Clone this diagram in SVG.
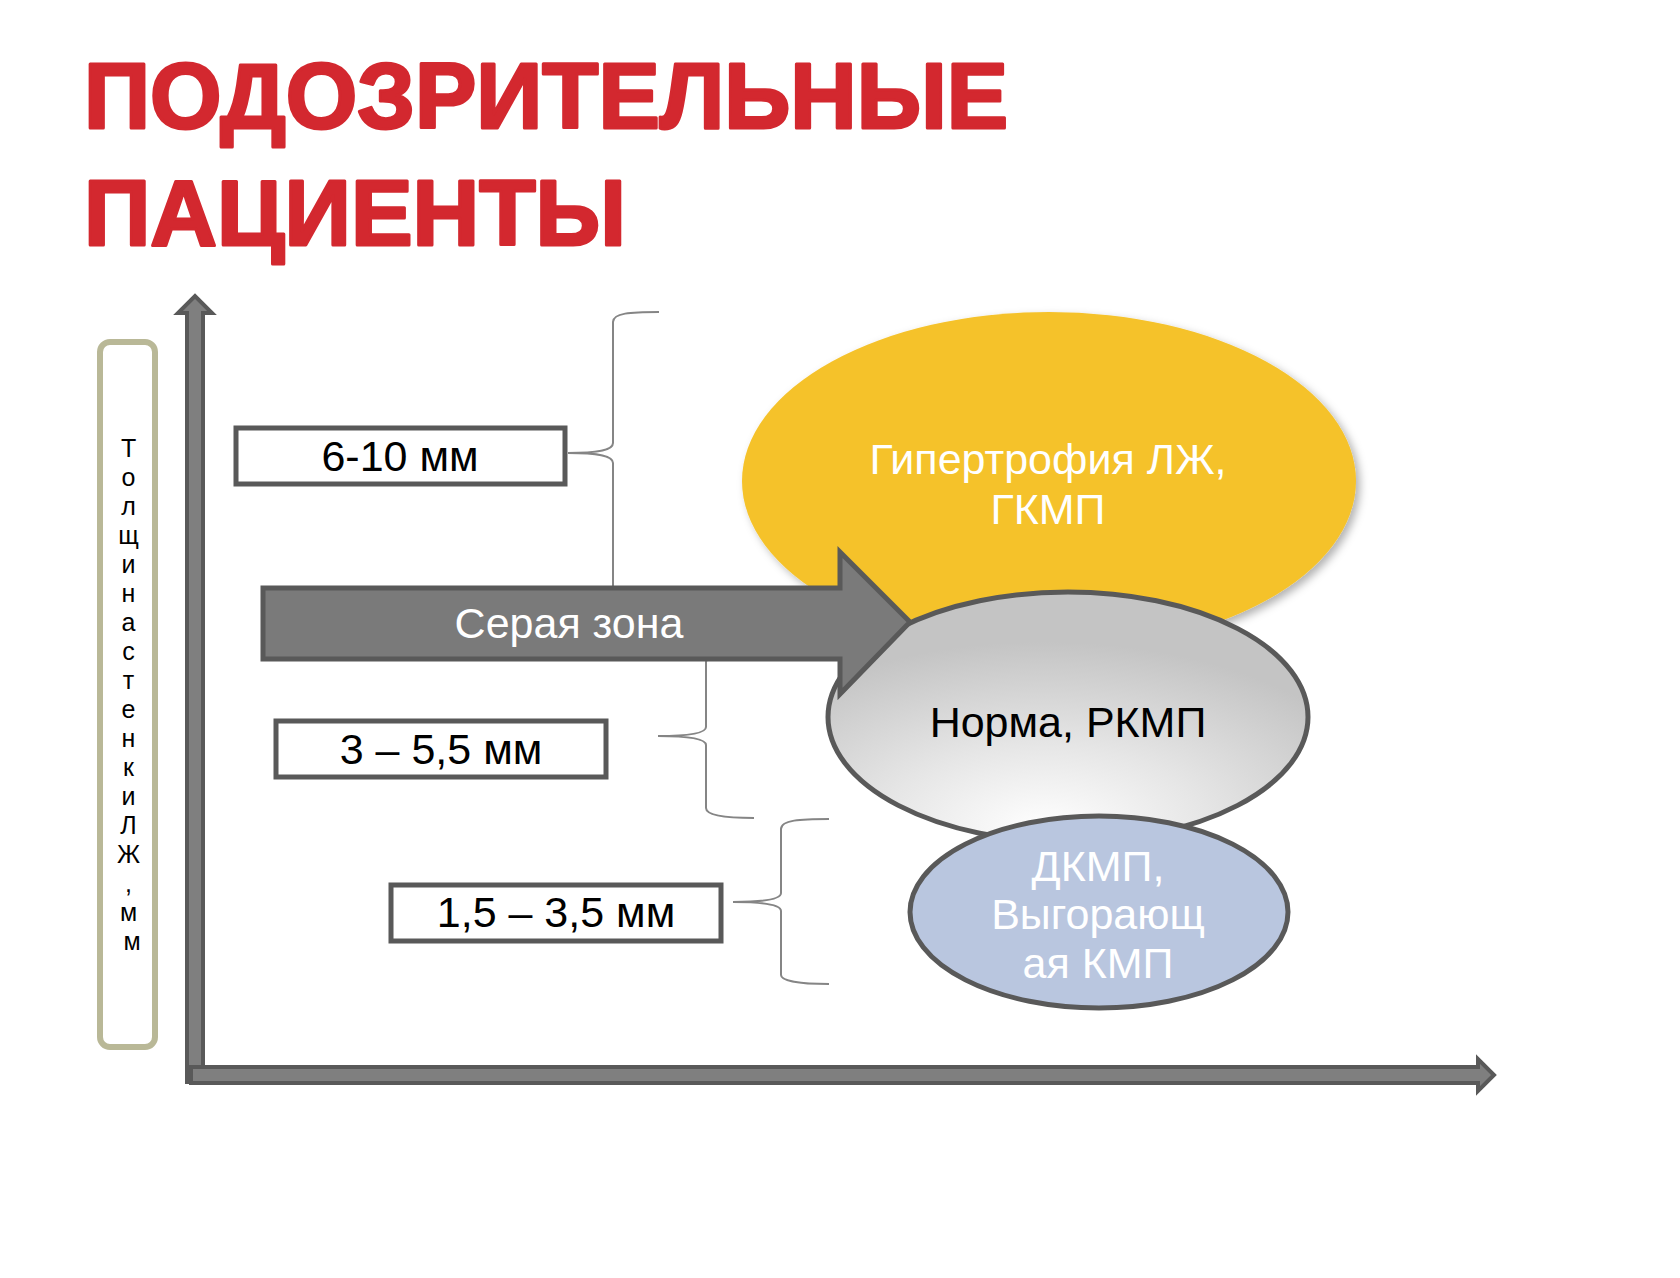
<svg xmlns="http://www.w3.org/2000/svg" width="1680" height="1278" viewBox="0 0 1680 1278">
  <defs>
    <radialGradient id="gNorm" cx="0.45" cy="0.95" r="0.75" fx="0.45" fy="0.95">
      <stop offset="0" stop-color="#FFFFFF"/>
      <stop offset="0.45" stop-color="#E6E6E6"/>
      <stop offset="1" stop-color="#C4C4C4"/>
    </radialGradient>
    <filter id="shadow" x="-10%" y="-10%" width="125%" height="125%">
      <feDropShadow dx="4" dy="4" stdDeviation="4" flood-color="#000" flood-opacity="0.3"/>
    </filter>
    <style>
      .title { font-family: "Liberation Sans", Arial, sans-serif; font-weight: bold; fill: #D3282F; stroke: #D3282F; stroke-width: 3; stroke-linejoin: round; }
      .lbl { font-family: "Liberation Sans", Arial, sans-serif; font-size: 43px; fill: #000; text-anchor: middle; }
      .wtxt { font-family: "Liberation Sans", Arial, sans-serif; font-size: 43px; fill: #FFFFFF; text-anchor: middle; }
      .btxt { font-family: "Liberation Sans", Arial, sans-serif; font-size: 43px; fill: #000; text-anchor: middle; }
      .vtxt { font-family: "Liberation Sans", Arial, sans-serif; font-size: 25px; fill: #000; text-anchor: middle; }
      .box { fill: #FFFFFF; stroke: #595959; stroke-width: 5; }
      .axis { fill: #7F7F7F; stroke: #595959; stroke-width: 4; stroke-linejoin: miter; }
      .brace { fill: none; stroke: #858585; stroke-width: 2; }
      .ell { stroke: #595959; stroke-width: 5; }
    </style>
  </defs>
  <rect width="1680" height="1278" fill="#FFFFFF"/>

  <g id="title">
    <text class="title" x="84" y="128" font-size="92" textLength="924" lengthAdjust="spacingAndGlyphs">ПОДОЗРИТЕЛЬНЫЕ</text>
    <text class="title" x="84" y="245" font-size="92" textLength="542" lengthAdjust="spacingAndGlyphs">ПАЦИЕНТЫ</text>
  </g>

  <g id="y-label">
    <rect x="100" y="342" width="55" height="705" rx="10" ry="10" fill="#FFFFFF" stroke="#B9B897" stroke-width="6"/>
    <text class="vtxt">
      <tspan x="132" y="457">Т</tspan>
      <tspan x="132" y="486">о</tspan>
      <tspan x="132" y="515">л</tspan>
      <tspan x="132" y="544">щ</tspan>
      <tspan x="132" y="573">и</tspan>
      <tspan x="132" y="602">н</tspan>
      <tspan x="132" y="631">а</tspan>
      <tspan x="132" y="660">с</tspan>
      <tspan x="132" y="689">т</tspan>
      <tspan x="132" y="718">е</tspan>
      <tspan x="132" y="747">н</tspan>
      <tspan x="132" y="776">к</tspan>
      <tspan x="132" y="805">и</tspan>
      <tspan x="132" y="834">Л</tspan>
      <tspan x="132" y="863">Ж</tspan>
      <tspan x="132" y="892">,</tspan>
      <tspan x="132" y="921">м</tspan>
      <tspan x="132" y="950">м</tspan>
    </text>
  </g>

  <g id="axes">
    <path class="axis" d="M187,1082 L187,313 L178,313 L195,296 L212,313 L203,313 L203,1082 Z"/>
    <path class="axis" d="M191,1067 L1478,1067 L1478,1059 L1494,1075 L1478,1091 L1478,1083 L191,1083 Z"/>
  </g>

  <g id="connectors">
    <path class="brace" d="M659,312 C630,312 613,313 613,322 L613,443 C613,450 600,453 568,453 C600,453 613,456 613,463 L613,590 C613,598 630,601 659,601"/>
    <path class="brace" d="M754,652 C725,652 706,653 706,662 L706,727 C706,733 690,736 658,736 C690,736 706,739 706,745 L706,808 C706,815 725,818 754,818"/>
    <path class="brace" d="M829,819 C800,819 781,820 781,829 L781,893 C781,899 765,902 733,902 C765,902 781,905 781,911 L781,975 C781,981 800,984 829,984"/>
  </g>

  <g id="node-6-10">
    <rect class="box" x="236" y="428" width="329" height="56"/>
    <text class="lbl" x="400" y="471">6-10 мм</text>
  </g>
  <g id="node-3-5">
    <rect class="box" x="276" y="721" width="330" height="56"/>
    <text class="lbl" x="441" y="764">3 – 5,5 мм</text>
  </g>
  <g id="node-1-3">
    <rect class="box" x="391" y="885" width="330" height="56"/>
    <text class="lbl" x="556" y="927">1,5 – 3,5 мм</text>
  </g>

  <g id="node-hypertrophy">
    <ellipse cx="1049" cy="481" rx="307" ry="169" fill="#F5C22B" filter="url(#shadow)"/>
    <text class="wtxt" x="1048" y="474">Гипертрофия ЛЖ,</text>
    <text class="wtxt" x="1048" y="524">ГКМП</text>
  </g>

  <g id="node-norma">
    <ellipse class="ell" cx="1068" cy="717" rx="240" ry="125" fill="url(#gNorm)"/>
    <text class="btxt" x="1068" y="737">Норма, РКМП</text>
  </g>

  <g id="node-dcm">
    <ellipse class="ell" cx="1099" cy="912" rx="189" ry="96" fill="#B9C6DF"/>
    <text class="wtxt" x="1098" y="881">ДКМП,</text>
    <text class="wtxt" x="1098" y="929">Выгорающ</text>
    <text class="wtxt" x="1098" y="978">ая КМП</text>
  </g>

  <g id="node-gray-zone">
    <path d="M263,588 L840,588 L840,552 L910,622 L840,694 L840,659 L263,659 Z" fill="#7A7A7A" stroke="#595959" stroke-width="5" stroke-linejoin="miter"/>
    <text class="wtxt" x="569" y="638" font-size="42">Серая зона</text>
  </g>
</svg>
